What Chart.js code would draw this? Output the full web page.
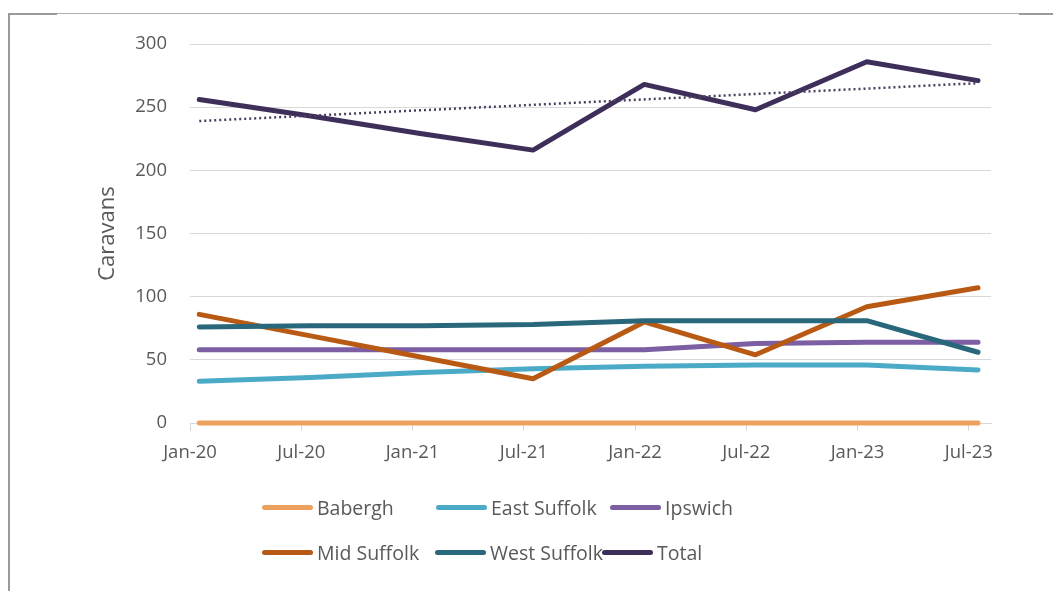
<!DOCTYPE html>
<html>
<head>
<meta charset="utf-8">
<script src="https://cdn.jsdelivr.net/npm/chart.js@4.4.1/dist/chart.umd.min.js"></script>
<style>
  html, body { margin: 0; padding: 0; background: #fff; }
  #wrap { position: relative; width: 1053px; height: 591px; overflow: hidden; }
  #chart { position: absolute; left: 0; top: 0; }
  .frame { position: absolute; background: #9a9a9a; }
  .legend-item { position: absolute; height: 24px; display: flex; align-items: center;
    font-family: 'Open Sans', sans-serif; font-size: 19.5px; color: #595959; white-space: nowrap; }
  .legend-swatch { width: 51px; height: 5px; border-radius: 3px; margin-right: 4px; }
</style>
</head>
<body>
<div id="wrap">
  <canvas id="chart" width="1053" height="591"></canvas>
  <div class="frame" style="left:8px;top:13px;width:1045px;height:1px;background:#b0b0b0"></div>
  <div class="frame" style="left:8px;top:13px;width:49px;height:2px"></div>
  <div class="frame" style="left:1019px;top:13px;width:34px;height:2px"></div>
  <div class="frame" style="left:8px;top:13px;width:2px;height:578px"></div>
  <div id="legend"></div>
</div>
<script>
// Survey dates (months after Jan 2020) and their axis labels
const tickMonths = [0, 6, 12, 18, 24, 30, 36, 42];
const tickLabels = ['Jan-20', 'Jul-20', 'Jan-21', 'Jul-21', 'Jan-22', 'Jul-22', 'Jan-23', 'Jul-23'];
// Counts are plotted in the middle of each survey month
const countMonths = [0.5, 6.5, 12.5, 18.5, 24.5, 30.5, 36.5, 42.5];

// Caravan counts by district
const babergh     = [0, 0, 0, 0, 0, 0, 0, 0];
const eastSuffolk = [33, 36, 40, 43, 45, 46, 46, 42];
const ipswich     = [58, 58, 58, 58, 58, 63, 64, 64];
const midSuffolk  = [86, 69, 52, 35, 80, 54, 92, 107];
const westSuffolk = [76, 77, 77, 78, 81, 81, 81, 56];
const total       = [256, 243, 229, 216, 268, 248, 286, 271];

// Linear trend of the total, start and end
const trendMonths = [0.5, 42.5];
const trendTotal  = [239, 269];

const seriesNames  = ['Babergh', 'East Suffolk', 'Ipswich', 'Mid Suffolk', 'West Suffolk', 'Total'];
const seriesValues = [babergh, eastSuffolk, ipswich, midSuffolk, westSuffolk, total];
const seriesColors = ['#EEA05E', '#4BAAC6', '#7C5EA2', '#B85A14', '#28687A', '#3E2F5A'];
const seriesWidths = [5, 5, 5, 5, 5, 5];

const toPoints = (xs, ys) => ys.map((y, i) => ({ x: xs[i], y }));

const datasets = seriesNames.map((name, i) => ({
  label: name,
  data: toPoints(countMonths, seriesValues[i]),
  borderColor: seriesColors[i],
  backgroundColor: seriesColors[i],
  borderWidth: seriesWidths[i],
  borderCapStyle: 'round',
  borderJoinStyle: 'round',
  pointRadius: 0,
  tension: 0,
  clip: false,
  order: seriesNames.length - i
}));

datasets.push({
  label: 'Linear (Total)',
  data: toPoints(trendMonths, trendTotal),
  borderColor: '#4A3F5E',
  borderWidth: 2.5,
  borderDash: [2, 3],
  pointRadius: 0,
  clip: false,
  order: 0
});

Chart.defaults.font.family = "'Open Sans', sans-serif";
Chart.defaults.color = '#595959';

new Chart(document.getElementById('chart'), {
  type: 'line',
  data: { datasets },
  options: {
    responsive: false,
    animation: false,
    layout: { padding: { left: 0, top: 44, right: 62, bottom: 0 } },
    plugins: { legend: { display: false }, tooltip: { enabled: false } },
    scales: {
      x: {
        type: 'linear',
        min: 0,
        max: 43.2,
        afterBuildTicks: s => { s.ticks = tickMonths.map(v => ({ value: v })); },
        afterFit: s => { s.height = 168; },
        grid: { drawOnChartArea: false, drawTicks: true, tickLength: 8, color: '#d9d9d9' },
        border: { display: true, color: '#d9d9d9' },
        ticks: {
          autoSkip: false,
          maxRotation: 0,
          padding: 11,
          font: { size: 18.5 },
          callback: v => tickLabels[tickMonths.indexOf(v)]
        }
      },
      y: {
        min: 0,
        max: 300,
        afterFit: s => { s.width = 190; },
        grid: { drawTicks: false, color: '#d9d9d9' },
        border: { display: false },
        ticks: { stepSize: 50, padding: 23, font: { size: 18.5 } },
        title: {
          display: true,
          text: 'Caravans',
          font: { size: 22 },
          padding: { top: 95, bottom: 0 }
        }
      }
    }
  }
});

// Legend: two rows of three entries
const legendCols = [[262, 436, 610], [262, 435, 602]];
const legendRows = [495, 540];
const legend = document.getElementById('legend');
seriesNames.forEach((name, i) => {
  const row = Math.floor(i / 3);
  const item = document.createElement('div');
  item.className = 'legend-item';
  item.style.left = legendCols[row][i % 3] + 'px';
  item.style.top = legendRows[row] + 'px';
  const sw = document.createElement('span');
  sw.className = 'legend-swatch';
  sw.style.background = seriesColors[i];
  const tx = document.createElement('span');
  tx.textContent = name;
  item.appendChild(sw);
  item.appendChild(tx);
  legend.appendChild(item);
});
</script>
</body>
</html>
